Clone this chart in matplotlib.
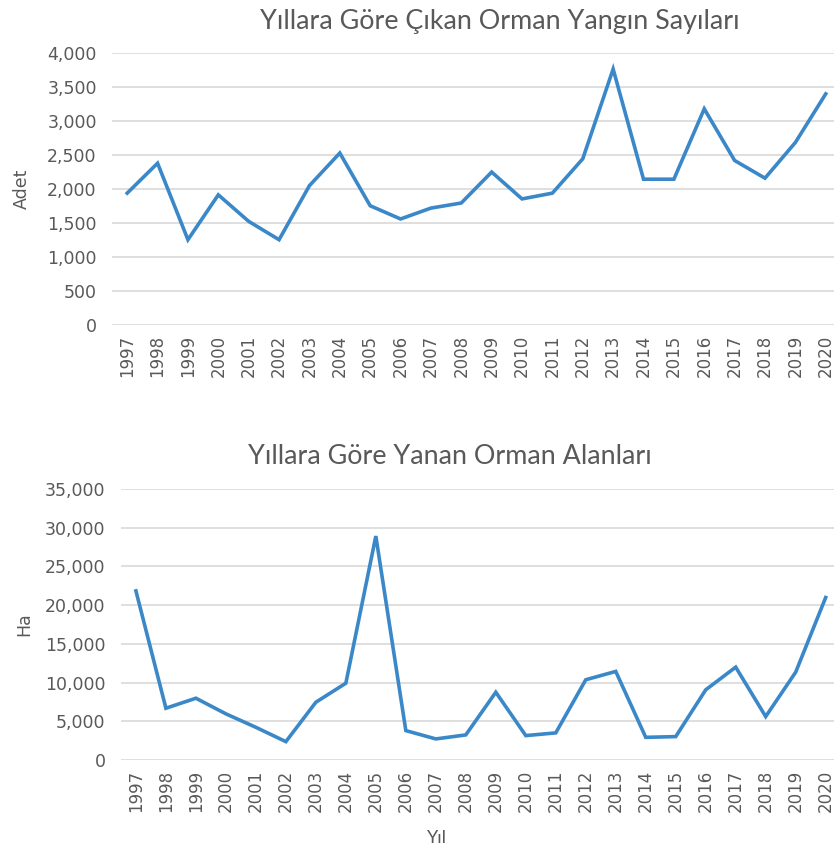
import numpy as np
from matplotlib import pyplot as plt
from matplotlib.ticker import FuncFormatter

plt.rcParams['font.family'] = ['DejaVu Sans']

years = [str(y) for y in range(1997, 2021)]
fire_counts = [1940, 2380, 1255, 1915, 1525, 1255, 2050, 2530, 1755, 1560, 1720, 1795,
               2250, 1855, 1940, 2445, 3765, 2145, 2145, 3180, 2420, 2160, 2685, 3400]
burned_area = [21840, 6685, 7980, 5960, 4220, 2370, 7460, 9920, 28925, 3795, 2720, 3240,
               8755, 3150, 3500, 10365, 11440, 2925, 3020, 9065, 11995, 5610, 11345, 20985]

line_c = '#3b88c9'
grid_c = '#d9d9d9'
txt_c = '#595959'
fmt = FuncFormatter(lambda v, p: '{:,.0f}'.format(v))

fig = plt.figure(figsize=(8.34, 8.52), dpi=100)
ax1 = fig.add_axes([0.1343, 0.6185, 0.874, 0.3192])
ax2 = fig.add_axes([0.145, 0.108, 0.863, 0.318])

x = np.arange(len(years))
for ax, vals, top, step, ylab in [(ax1, fire_counts, 4000, 500, 'Adet'),
                                  (ax2, burned_area, 35000, 5000, 'Ha')]:
    ax.plot(x, vals, color=line_c, lw=2.6, solid_joinstyle='miter')
    ax.set_xlim(-0.5, len(years) - 0.5)
    ax.set_ylim(0, top)
    ax.set_yticks(np.arange(0, top + 1, step))
    ax.yaxis.set_major_formatter(fmt)
    ax.set_xticks(x)
    ax.set_xticklabels(years, rotation=90)
    ax.tick_params(axis='y', labelsize=12.5, labelcolor=txt_c, length=0, pad=11)
    ax.tick_params(axis='x', labelsize=12, labelcolor=txt_c, length=0, pad=7)
    ax.grid(axis='y', color=grid_c, lw=1.2)
    ax.set_axisbelow(True)
    for s in ax.spines.values():
        s.set_visible(False)
    ax.set_ylabel(ylab, fontsize=12.5, color=txt_c)

ax1.set_title('Yıllara Göre Çıkan Orman Yangın Sayıları', fontsize=19.4, color=txt_c,
              family='Lato', x=(500 - 112) / 729, pad=17)
ax2.set_title('Yıllara Göre Yanan Orman Alanları', fontsize=19.4, color=txt_c,
              family='Lato', x=(450 - 121) / 720, pad=18)
ax1.yaxis.set_label_coords(-0.112, 0.5)
ax2.yaxis.set_label_coords(-0.122, 0.5)
ax2.set_xlabel('Yıl', fontsize=13, color=txt_c, family='Lato')
ax2.xaxis.set_label_coords((437 - 121) / 720, -0.26)

fig.savefig('out.png', dpi=100)
